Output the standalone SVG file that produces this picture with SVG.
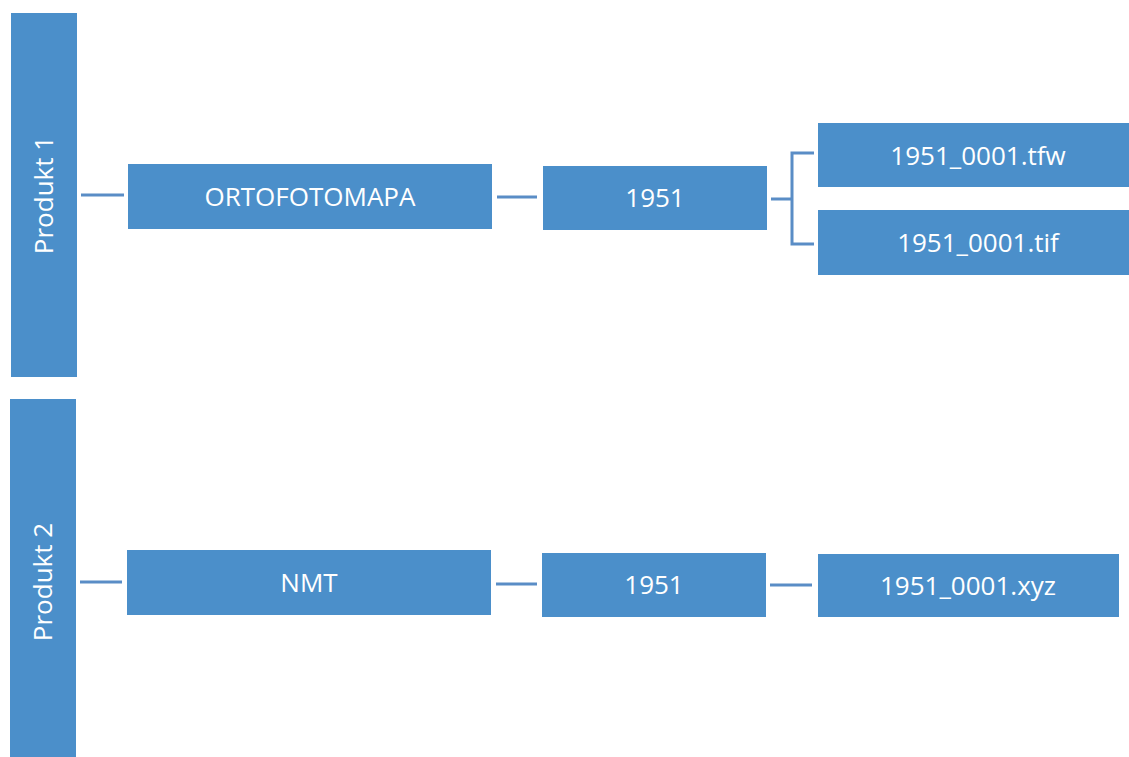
<svg xmlns="http://www.w3.org/2000/svg" width="1129" height="757" viewBox="0 0 1129 757">
<style>
.box{fill:#4b8fca}
.lbl{fill:#ffffff;font-family:"Open Sans","Noto Sans",sans-serif;font-size:26px;text-anchor:middle;dominant-baseline:central}
.con{fill:none;stroke:#5a8dc6;stroke-width:3}
</style>
<rect width="1129" height="757" fill="#ffffff"/>
<g id="produkt1"><rect class="box" x="11" y="13" width="66" height="364"/><text class="lbl" transform="translate(43,195) rotate(-90)">Produkt 1</text></g>
<g id="produkt2"><rect class="box" x="10" y="399" width="66" height="370"/><text class="lbl" transform="translate(42,582) rotate(-90)">Produkt 2</text></g>
<g id="ortofotomapa"><rect class="box" x="128" y="164" width="364" height="65"/><text class="lbl" x="310" y="196">ORTOFOTOMAPA</text></g>
<g id="y1951a"><rect class="box" x="543" y="166" width="224" height="64"/><text class="lbl" x="655" y="197">1951</text></g>
<g id="tfw"><rect class="box" x="818" y="123" width="321" height="64"/><text class="lbl" x="978" y="155">1951_0001.tfw</text></g>
<g id="tif"><rect class="box" x="818" y="210" width="321" height="65"/><text class="lbl" x="978" y="242">1951_0001.tif</text></g>
<g id="nmt"><rect class="box" x="127" y="550" width="364" height="65"/><text class="lbl" x="309" y="582">NMT</text></g>
<g id="y1951b"><rect class="box" x="542" y="553" width="224" height="64"/><text class="lbl" x="654" y="584">1951</text></g>
<g id="xyz"><rect class="box" x="818" y="554" width="301" height="63"/><text class="lbl" x="968" y="585">1951_0001.xyz</text></g>
<g id="connectors">
<path class="con" d="M81 195H124"/>
<path class="con" d="M497 197H537"/>
<path class="con" d="M771 199H792M814 153H792V244H814"/>
<path class="con" d="M80 582H122"/>
<path class="con" d="M496 584H537"/>
<path class="con" d="M770 585H812"/>
</g>
</svg>
